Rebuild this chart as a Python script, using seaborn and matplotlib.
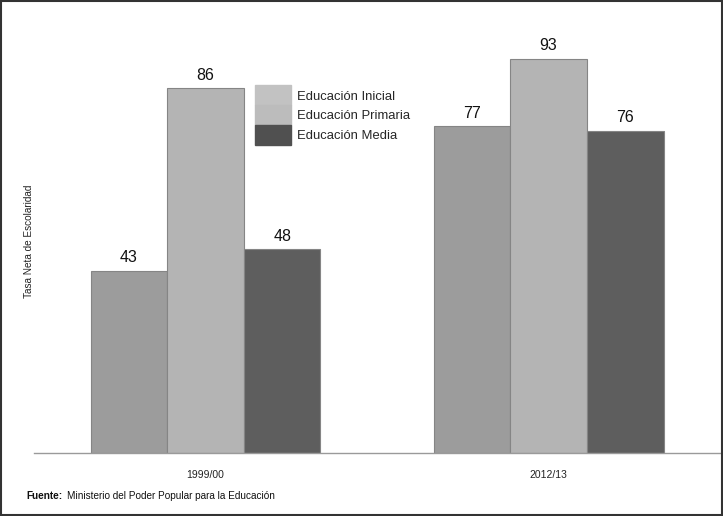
import matplotlib
matplotlib.use("Agg")
import matplotlib.pyplot as plt
import seaborn as sns
import pandas as pd
from matplotlib.patches import Rectangle

## Data ##
periods = ["1999/00", "2012/13"]
levels = ["Educación Inicial", "Educación Primaria", "Educación Media"]
inicial = [43, 77]
primaria = [86, 93]
media = [48, 76]

df = pd.DataFrame({
    "Periodo": periods * 3,
    "Nivel": [levels[0]] * 2 + [levels[1]] * 2 + [levels[2]] * 2,
    "Tasa": inicial + primaria + media,
})

bar_colors = ["#9c9c9c", "#b4b4b4", "#5e5e5e"]
legend_colors = ["#c2c2c2", "#bcbcbc", "#505050"]

sns.set_style("white")
plt.rcParams["font.family"] = ["Liberation Sans", "DejaVu Sans"]

fig = plt.figure(figsize=(7.23, 5.16), dpi=100)
ax = fig.add_axes([0.047, 0.122, 0.949, 0.822])

sns.barplot(data=df, x="Periodo", y="Tasa", hue="Nivel", hue_order=levels,
            palette=bar_colors, width=0.67, edgecolor="#858585", linewidth=0.8,
            legend=False, ax=ax)

for cont in ax.containers:
    ax.bar_label(cont, padding=4, fontsize=11.5, color="#111111")

ax.set_xlim(-0.5, 1.5)
ax.set_ylim(0, 100)
ax.set_yticks([])
ax.set_xlabel("")
ax.set_ylabel("Tasa Neta de Escolaridad", fontsize=7.2, color="#222222")
ax.yaxis.set_label_coords(0.0, 0.5)
ax.tick_params(axis="x", which="major", length=0, labelsize=7.5, pad=12, colors="#222222")
ax.set_xticks([-0.5, 0.5, 1.5], minor=True)
ax.tick_params(axis="x", which="minor", length=5, color="#aaaaaa", width=0.8)
for s in ["top", "right", "left"]:
    ax.spines[s].set_visible(False)
ax.spines["bottom"].set_color("#9a9a9a")
ax.spines["bottom"].set_linewidth(1.0)

# legend drawn as patches
handles = [Rectangle((0, 0), 1, 1, color=c) for c in legend_colors]
ax.legend(handles, levels, loc="upper left", bbox_to_anchor=(0.313, 0.882),
          frameon=False, fontsize=9.4, handlelength=2.7, handleheight=1.95,
          handletextpad=0.5, labelspacing=0.0, borderpad=0)

fig.text(0.037, 0.032, "Fuente:", fontsize=7.2, fontweight="bold", color="#111111")
fig.text(0.093, 0.032, "Ministerio del Poder Popular para la Educación", fontsize=7.2, color="#111111")

fig.patches.append(Rectangle((0.002, 0.002), 0.996, 0.996, transform=fig.transFigure,
                             fill=False, edgecolor="#333333", linewidth=1.5))

fig.savefig("out.png", dpi=100)
